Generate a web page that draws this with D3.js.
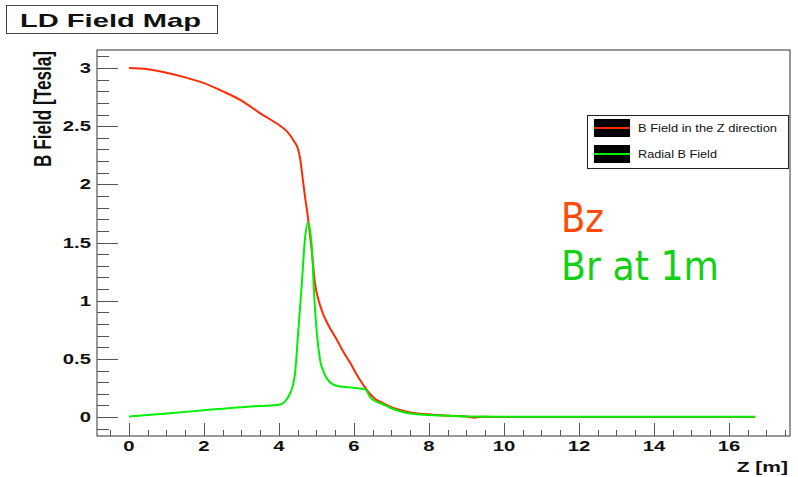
<!DOCTYPE html>
<html><head><meta charset="utf-8">
<script src="https://cdn.jsdelivr.net/npm/d3@7"></script>
<style>body{margin:0;background:#fff}svg{display:block}</style>
</head><body>
<svg id="c" width="798" height="477"></svg>
<script>
// ---- data ----
const bzZ = [0,0.5,1,1.5,2,2.5,3,3.5,4,4.2,4.3,4.4,4.5,4.56,4.64,4.7,4.75,4.8,4.88,4.96,5.05,5.17,5.3,5.55,5.7,5.89,6.1,6.35,6.55,6.77,7.0,7.23,7.5,8.1,8.6,9.0,9.2,9.4,10,12,14,16.7];
const bzB = [3.0,2.99,2.96,2.92,2.87,2.80,2.72,2.61,2.51,2.46,2.42,2.37,2.31,2.23,2.03,1.88,1.77,1.64,1.41,1.15,1.01,0.89,0.80,0.66,0.57,0.47,0.35,0.23,0.16,0.12,0.085,0.06,0.04,0.02,0.01,0.004,-0.006,0.002,0.0,0.0,0.0,0.0];
const brZ = [0,1,2,3,3.5,4.0,4.15,4.29,4.37,4.43,4.51,4.61,4.69,4.77,4.83,4.88,4.93,5.01,5.09,5.2,5.28,5.44,5.6,5.89,6.16,6.29,6.35,6.43,6.61,6.77,6.96,7.23,7.5,8.0,8.56,9.0,10,12,14,16.7];
const brB = [0.005,0.03,0.058,0.085,0.095,0.105,0.13,0.2,0.27,0.38,0.72,1.15,1.52,1.67,1.6,1.44,1.1,0.72,0.5,0.38,0.33,0.28,0.265,0.255,0.245,0.24,0.22,0.17,0.13,0.11,0.08,0.05,0.03,0.018,0.01,0.005,0.003,0.002,0.002,0.002];
const xTickLabels = [0,2,4,6,8,10,12,14,16];
const yTickLabels = [0,0.5,1,1.5,2,2.5,3];
const legendLabels = ["B Field in the Z direction","Radial B Field"];
const seriesColors = ["#ff2a00","#00f000"];

const svg = d3.select("#c");
const L=97,R=790,T=50,B=436;
const x = d3.scaleLinear().domain([-0.853,17.627]).range([L,R]);
const y = d3.scaleLinear().domain([-0.163,3.155]).range([B,T]);
const SX = 1.45;

// frame
svg.append("rect").attr("x",L).attr("y",T).attr("width",R-L).attr("height",B-T)
  .attr("fill","#fff").attr("stroke","#333").attr("stroke-width",1);

// ticks
const xMinor = d3.range(-0.5,17.6,0.5);
svg.append("g").selectAll("line").data(xMinor).join("line")
  .attr("x1",d=>Math.round(x(d))+0.5).attr("x2",d=>Math.round(x(d))+0.5)
  .attr("y1",B).attr("y2",d=>Math.abs(d/2-Math.round(d/2))<1e-6 && d>=0 && d<=16 ? B-13 : B-6)
  .attr("stroke","#555").attr("stroke-width",1);
const yMinor = d3.range(-0.1,3.11,0.1);
svg.append("g").selectAll("line").data(yMinor).join("line")
  .attr("y1",d=>Math.round(y(d))+0.5).attr("y2",d=>Math.round(y(d))+0.5)
  .attr("x1",L).attr("x2",d=>{const m=Math.abs(d*2-Math.round(d*2))<1e-6 && d>-0.01; return m? L+21 : L+12;})
  .attr("stroke","#555").attr("stroke-width",1);

// tick labels
svg.append("g").selectAll("g").data(xTickLabels).join("g")
  .attr("transform",d=>`translate(${x(d)},451) scale(${SX},1)`)
  .append("text").attr("text-anchor","middle")
  .attr("font-family","Liberation Sans, Arial, sans-serif").attr("font-weight","bold").attr("font-size",14)
  .attr("fill","#111").text(d=>d);
svg.append("g").selectAll("g").data(yTickLabels).join("g")
  .attr("transform",d=>`translate(91,${y(d)+5}) scale(${SX},1)`)
  .append("text").attr("text-anchor","end")
  .attr("font-family","Liberation Sans, Arial, sans-serif").attr("font-weight","bold").attr("font-size",14)
  .attr("fill","#111").text(d=>d);

// axis titles
svg.append("g").attr("transform",`translate(788,472) scale(${SX},1)`)
  .append("text").attr("text-anchor","end")
  .attr("font-family","Liberation Sans, Arial, sans-serif").attr("font-weight","bold").attr("font-size",14.5)
  .attr("fill","#111").text("Z [m]");
svg.append("g").attr("transform",`translate(51,51) scale(1.55,1)`)
  .append("text").attr("transform","rotate(-90)").attr("text-anchor","end")
  .attr("font-family","Liberation Sans, Arial, sans-serif").attr("font-weight","bold").attr("font-size",15)
  .attr("textLength",116).attr("lengthAdjust","spacingAndGlyphs")
  .attr("fill","#111").text("B Field [Tesla]");

// curves
const line = d3.line().x(d=>x(d[0])).y(d=>y(d[1])).curve(d3.curveMonotoneX);
const bz = bzZ.map((z,i)=>[z,bzB[i]]);
const br = brZ.map((z,i)=>[z,brB[i]]);
svg.append("path").datum(bz).attr("d",line).attr("fill","none").attr("stroke",seriesColors[0]).attr("stroke-width",2);
svg.append("path").datum(br).attr("d",line).attr("fill","none").attr("stroke",seriesColors[1]).attr("stroke-width",2);

// legend
const lg = svg.append("g");
lg.append("rect").attr("x",587.5).attr("y",115.5).attr("width",201).attr("height",53)
  .attr("fill","#fff").attr("stroke","#222").attr("stroke-width",1);
legendLabels.forEach((t,i)=>{
  const yy = 119 + i*26;
  lg.append("rect").attr("x",594).attr("y",yy).attr("width",36).attr("height",18).attr("fill","#000");
  lg.append("line").attr("x1",594).attr("x2",630).attr("y1",yy+9).attr("y2",yy+9)
    .attr("stroke",seriesColors[i]).attr("stroke-width",2);
  lg.append("text").attr("x",638).attr("y",yy+13)
    .attr("font-family","Liberation Sans, Arial, sans-serif").attr("font-size",10.5)
    .attr("textLength", i===0?139:79).attr("lengthAdjust","spacingAndGlyphs")
    .attr("fill","#111").text(t);
});

// title box
svg.append("rect").attr("x",6.5).attr("y",5.5).attr("width",211).attr("height",28)
  .attr("fill","#fff").attr("stroke","#444").attr("stroke-width",1);
svg.append("text").attr("x",20).attr("y",27)
  .attr("font-family","Liberation Sans, Arial, sans-serif").attr("font-weight","bold").attr("font-size",19)
  .attr("textLength",181).attr("lengthAdjust","spacingAndGlyphs")
  .attr("fill","#111").text("LD Field Map");

// annotations
svg.append("text").attr("x",561).attr("y",232)
  .attr("font-family","DejaVu Sans, Verdana, sans-serif").attr("font-size",40)
  .attr("textLength",43).attr("lengthAdjust","spacingAndGlyphs")
  .attr("fill","#ff4a0a").text("Bz");
svg.append("text").attr("x",561).attr("y",280)
  .attr("font-family","DejaVu Sans, Verdana, sans-serif").attr("font-size",40)
  .attr("textLength",158).attr("lengthAdjust","spacingAndGlyphs")
  .attr("fill","#14d014").text("Br at 1m");
</script>
</body></html>
